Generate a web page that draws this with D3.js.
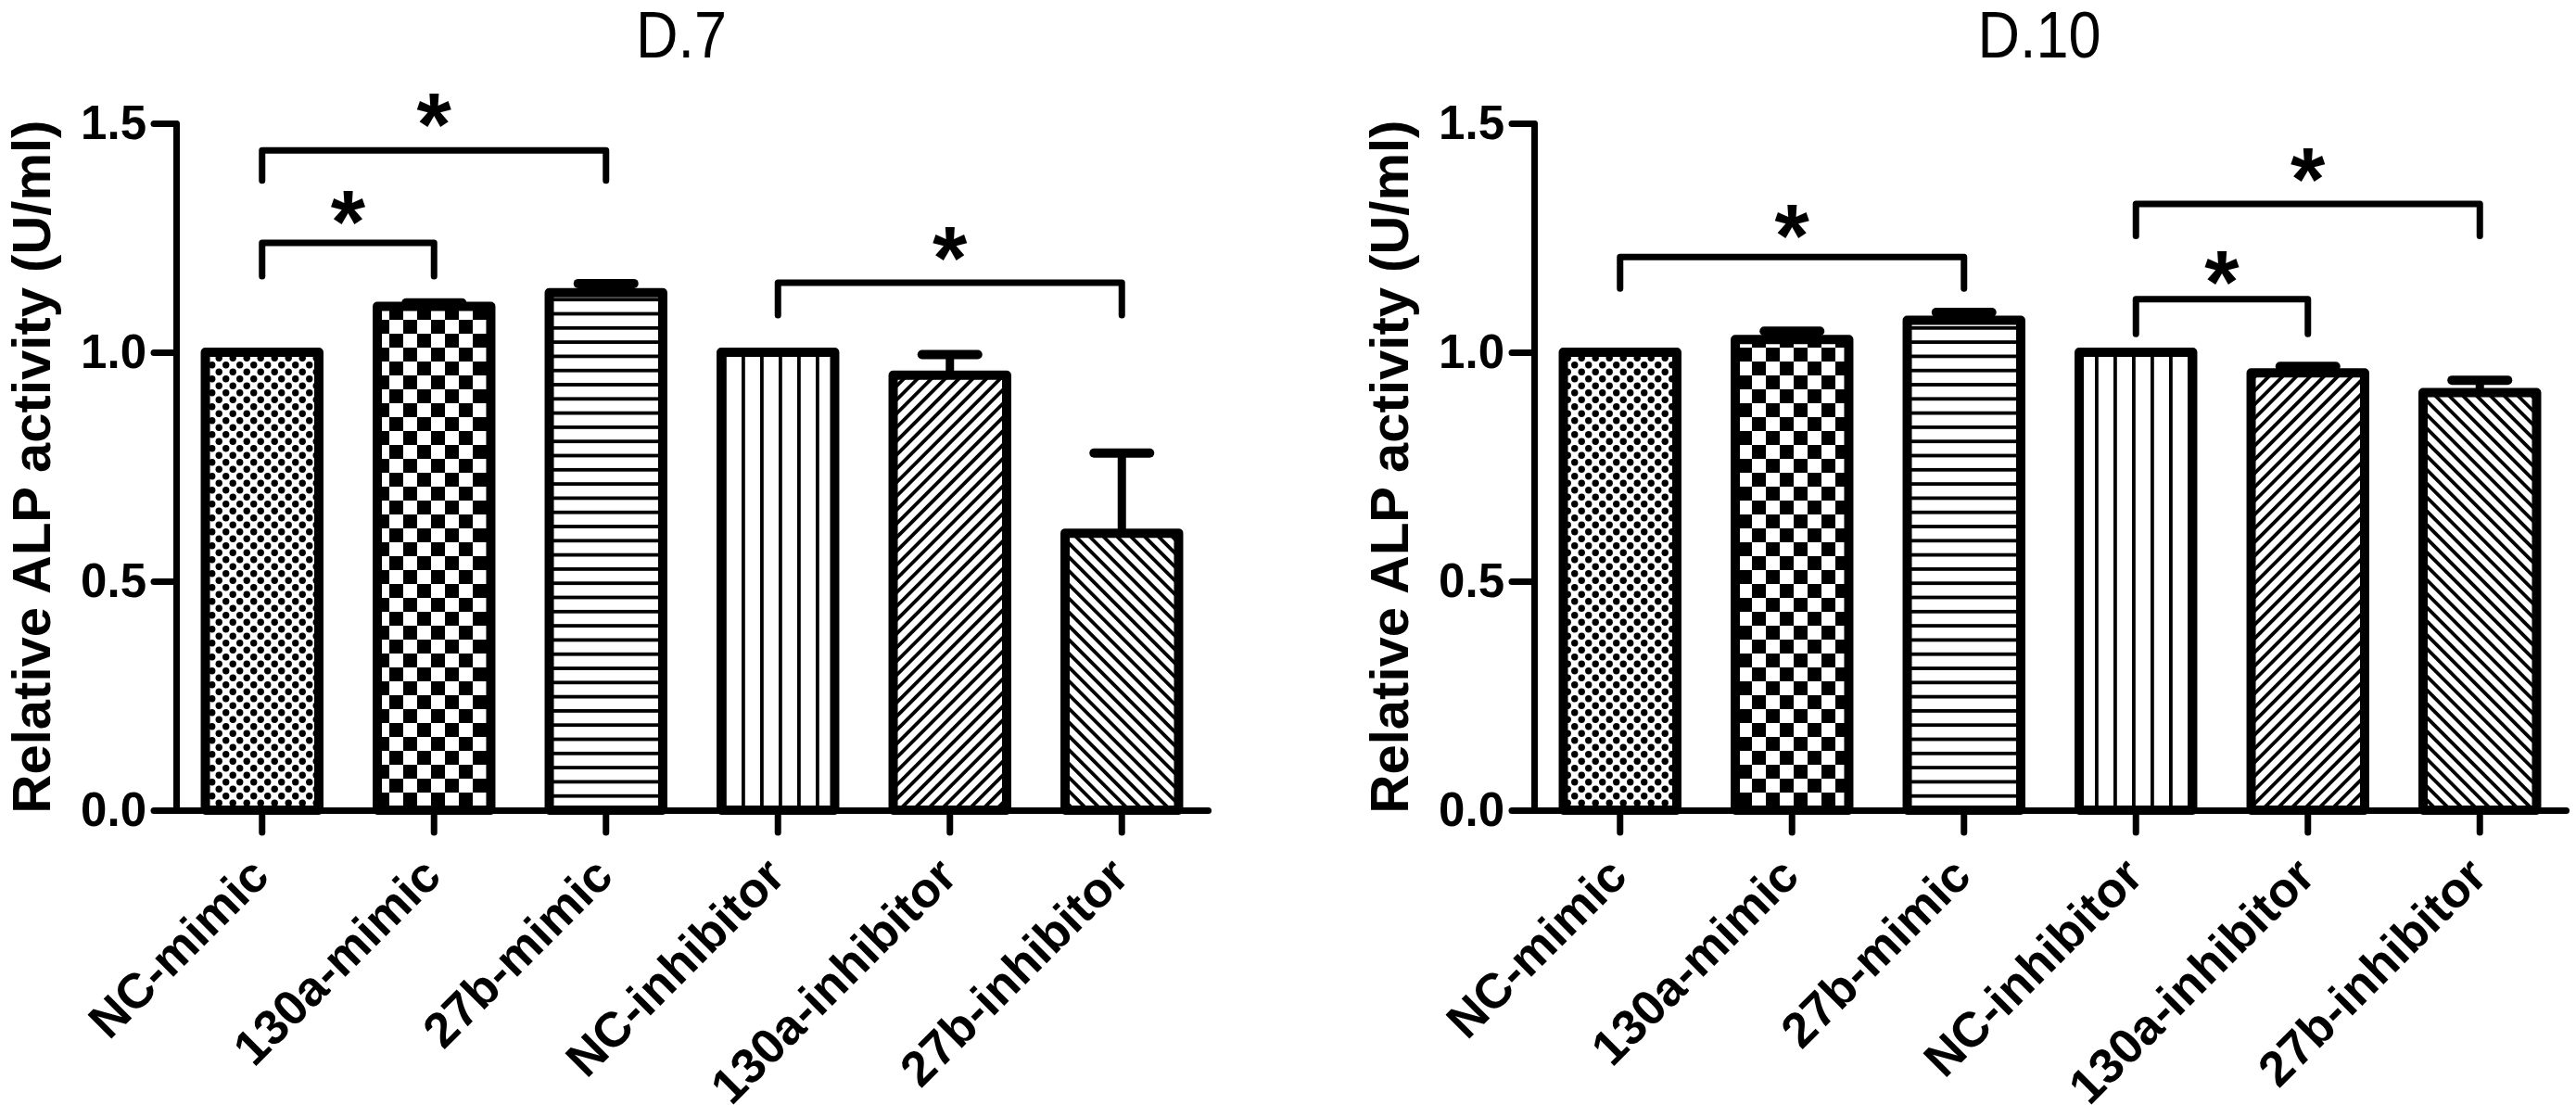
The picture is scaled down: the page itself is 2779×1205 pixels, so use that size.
<!DOCTYPE html>
<html>
<head>
<meta charset="utf-8">
<title>Relative ALP activity</title>
<script src="https://cdn.jsdelivr.net/npm/d3@7"></script>
<style>
  body { margin: 0; background: #fff; }
  svg, svg text { font-family: "Liberation Sans"; }
</style>
</head>
<body>
<div id="chart"></div>
<script>

// groups on the x axis (same for both panels)
const categories = ["NC-mimic", "130a-mimic", "27b-mimic", "NC-inhibitor", "130a-inhibitor", "27b-inhibitor"];
const yTicks = [0, 0.5, 1.0, 1.5];

// day 7 means and error (upper SEM only)
const d7Values = [1.0, 1.10, 1.13, 1.0, 0.95, 0.605];
const d7Errors = [0, 0.008, 0.02, 0, 0.045, 0.175];

// day 10 means and error
const d10Values = [1.0, 1.028, 1.07, 1.0, 0.955, 0.912];
const d10Errors = [0, 0.018, 0.017, 0, 0.014, 0.027];

// significance brackets: group indexes, bar height, leg end, star position (data units)
const d7Brackets = [
    { from: 0, to: 2, top: 1.441, leg: 1.375, star: 1.542 },
    { from: 0, to: 1, top: 1.239, leg: 1.166, star: 1.330 },
    { from: 3, to: 5, top: 1.152, leg: 1.081, star: 1.251 }
];
const d10Brackets = [
    { from: 0, to: 2, top: 1.208, leg: 1.139, star: 1.300 },
    { from: 3, to: 5, top: 1.324, leg: 1.254, star: 1.422 },
    { from: 3, to: 4, top: 1.116, leg: 1.040, star: 1.197 }
];

// fill pattern for each group
const patternIds = ["dots", "checker", "hlines", "vlines", "diagUp", "diagDown"];

const width = 2779;
const height = 1205;

let svg = d3
    .select("#chart")
    .append("svg")
        .attr("width", width)
        .attr("height", height)
        .attr("viewBox", [0, 0, width, height]);

// ---- patterns ----
let defs = svg.append("defs");

let dots = defs.append("pattern")
    .attr("id", "dots")
    .attr("patternUnits", "userSpaceOnUse")
    .attr("width", 15).attr("height", 15);
dots.append("rect").attr("width", 15).attr("height", 15).attr("fill", "white");
dots.append("circle").attr("cx", 3.75).attr("cy", 3.75).attr("r", 3.7).attr("fill", "black");
dots.append("circle").attr("cx", 11.25).attr("cy", 11.25).attr("r", 3.7).attr("fill", "black");

let checker = defs.append("pattern")
    .attr("id", "checker")
    .attr("patternUnits", "userSpaceOnUse")
    .attr("width", 30).attr("height", 30);
checker.append("rect").attr("width", 30).attr("height", 30).attr("fill", "white");
checker.append("rect").attr("width", 15).attr("height", 15).attr("fill", "black");
checker.append("rect").attr("x", 15).attr("y", 15).attr("width", 15).attr("height", 15).attr("fill", "black");

let hlines = defs.append("pattern")
    .attr("id", "hlines")
    .attr("patternUnits", "userSpaceOnUse")
    .attr("width", 15).attr("height", 15.3);
hlines.append("rect").attr("width", 15).attr("height", 15.3).attr("fill", "white");
hlines.append("rect").attr("width", 15).attr("height", 3.8).attr("fill", "black");

let vlines = defs.append("pattern")
    .attr("id", "vlines")
    .attr("patternUnits", "userSpaceOnUse")
    .attr("width", 20).attr("height", 20);
vlines.append("rect").attr("width", 20).attr("height", 20).attr("fill", "white");
vlines.append("rect").attr("width", 3.8).attr("height", 20).attr("fill", "black");

// diagonal stripes: vertical stripes turned +/-45 degrees
[["diagUp", 45], ["diagDown", -45]].forEach(([id, angle]) => {
    let p = defs.append("pattern")
        .attr("id", id)
        .attr("patternUnits", "userSpaceOnUse")
        .attr("patternTransform", `rotate(${angle})`)
        .attr("width", 10.5).attr("height", 10.5);
    p.append("rect").attr("width", 10.5).attr("height", 10.5).attr("fill", "white");
    p.append("rect").attr("width", 3.8).attr("height", 10.5).attr("fill", "black");
});

// ---- one panel ----
function drawPanel(left, title, values, errors, brackets) {

    let xScale = d3.scaleBand()
                    .domain(categories)
                    .range([left, left + 1113])
                    .paddingInner(0.34)
                    .paddingOuter(0.17);

    let yScale = d3.scaleLinear()
                    .domain([0, 1.5])
                    .range([874, 133]);

    let g = svg.append("g");

    // title (slightly narrow face, like the original)
    g.append("text")
        .attr("transform", `translate(${left + 545}, 62) scale(0.9, 1)`)
        .attr("text-anchor", "middle")
        .attr("font-size", "70px")
        .text(title);

    // y axis label
    g.append("text")
        .attr("transform", `translate(${left - 136}, ${yScale(0.75)}) rotate(-90)`)
        .attr("text-anchor", "middle")
        .attr("font-size", "58px")
        .attr("font-weight", "bold")
        .text("Relative ALP activity (U/ml)");

    // bars
    g.selectAll("rect.bar")
        .data(values)
        .enter()
        .append("rect")
            .attr("class", "bar")
            .attr("x", (d, i) => xScale(categories[i]))
            .attr("y", (d) => yScale(d))
            .attr("width", xScale.bandwidth())
            .attr("height", (d) => yScale(0) - yScale(d))
            .attr("fill", (d, i) => `url(#${patternIds[i]})`)
            .attr("stroke", "black")
            .attr("stroke-width", 10)
            .attr("stroke-linejoin", "round");

    // error bars (upper only)
    let errData = values.map((v, i) => ({ cat: categories[i], v: v, e: errors[i] }))
                        .filter((d) => d.e > 0);
    let cx = (d) => xScale(d.cat) + xScale.bandwidth() / 2;

    g.selectAll("line.err")
        .data(errData)
        .enter()
        .append("line")
            .attr("class", "err")
            .attr("x1", cx).attr("x2", cx)
            .attr("y1", (d) => yScale(d.v))
            .attr("y2", (d) => yScale(d.v + d.e))
            .attr("stroke", "black")
            .attr("stroke-width", 9);

    g.selectAll("line.cap")
        .data(errData)
        .enter()
        .append("line")
            .attr("class", "cap")
            .attr("x1", (d) => cx(d) - 30).attr("x2", (d) => cx(d) + 30)
            .attr("y1", (d) => yScale(d.v + d.e))
            .attr("y2", (d) => yScale(d.v + d.e))
            .attr("stroke", "black")
            .attr("stroke-width", 10)
            .attr("stroke-linecap", "round");

    // axes
    let yAxis = g.append("g")
            .attr("transform", `translate(${left}, 0)`)
            .call(d3.axisLeft(yScale)
                    .tickValues(yTicks)
                    .tickFormat(d3.format(".1f"))
                    .tickSize(24)
                    .tickSizeOuter(0)
                    .tickPadding(8));

    let xAxis = g.append("g")
            .attr("transform", `translate(0, ${yScale(0)})`)
            .call(d3.axisBottom(xScale)
                    .tickSize(24)
                    .tickSizeOuter(0));

    [yAxis, xAxis].forEach((ax) => {
        ax.attr("font-family", null);
        ax.select(".domain")
            .attr("stroke-width", 7)
            .attr("stroke-linecap", "round");
        ax.selectAll(".tick line")
            .attr("stroke-width", 7)
            .attr("stroke-linecap", "round");
        ax.selectAll(".tick text")
            .attr("font-weight", "bold")
            .attr("font-size", "51px")
            .attr("fill", "black");
    });

    // slanted group names
    xAxis.selectAll(".tick text")
        .attr("x", 0)
        .attr("y", 0)
        .attr("dy", null)
        .attr("text-anchor", "end")
        .attr("font-size", "53px")
        .attr("transform", "translate(10, 74) rotate(-45)");

    // significance brackets
    let mid = (d) => (xScale(categories[d.from]) + xScale(categories[d.to])) / 2 + xScale.bandwidth() / 2;
    let centre = (i) => xScale(categories[i]) + xScale.bandwidth() / 2;

    g.selectAll("path.bracket")
        .data(brackets)
        .enter()
        .append("path")
            .attr("class", "bracket")
            .attr("d", (d) => `M${centre(d.from)},${yScale(d.leg)}V${yScale(d.top)}H${centre(d.to)}V${yScale(d.leg)}`)
            .attr("fill", "none")
            .attr("stroke", "black")
            .attr("stroke-width", 7)
            .attr("stroke-linecap", "round")
            .attr("stroke-linejoin", "round");

    g.selectAll("text.star")
        .data(brackets)
        .enter()
        .append("text")
            .attr("class", "star")
            .attr("x", mid)
            .attr("y", (d) => yScale(d.star))
            .attr("dy", "0.57em")
            .attr("text-anchor", "middle")
            .attr("font-size", "96px")
            .attr("font-weight", "bold")
            .text("*");
}

drawPanel(190, "D.7", d7Values, d7Errors, d7Brackets);
drawPanel(1655, "D.10", d10Values, d10Errors, d10Brackets);

</script>
</body>
</html>
